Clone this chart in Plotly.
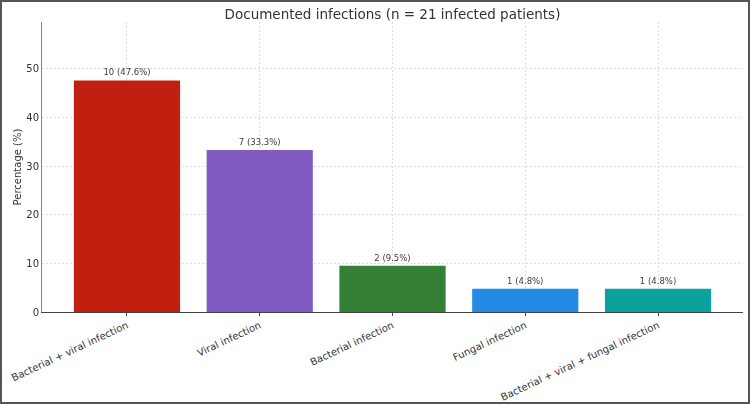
import plotly.graph_objects as go

categories = ["Bacterial + viral infection", "Viral infection", "Bacterial infection",
              "Fungal infection", "Bacterial + viral + fungal infection"]
counts = [10, 7, 2, 1, 1]
percentages = [47.6, 33.3, 9.5, 4.8, 4.8]
colors = ["#BF1607", "#7C54C1", "#2B7B2F", "#1B86E4", "#009D98"]
labels = [f"{c} ({p}%)" for c, p in zip(counts, percentages)]

W, H = 750, 404
ml, mr, mt, mb = 42, 7, 22, 92
pw, ph = W - ml - mr, H - mt - mb

fig = go.Figure()
fig.add_trace(go.Bar(
    x=list(range(len(categories))), y=percentages,
    marker=dict(color=colors, line=dict(width=0)), opacity=0.96,
    width=0.8, text=labels, textposition="outside",
    textfont=dict(size=8.5, color="#333", family="DejaVu Sans"),
    cliponaxis=False, hoverinfo="skip",
))

fig.update_layout(
    width=W, height=H,
    margin=dict(l=ml, r=mr, t=mt, b=mb),
    paper_bgcolor="white", plot_bgcolor="white",
    font=dict(family="DejaVu Sans", color="#333"),
    showlegend=False,
    title=dict(text="Documented infections (n = 21 infected patients)",
               x=(ml + pw / 2) / W, xanchor="center", y=1 - 14 / H, yanchor="middle",
               font=dict(size=13.5, color="#333")),
    xaxis=dict(
        range=[-0.64, len(categories) - 1 + 0.64],
        tickmode="array", tickvals=list(range(len(categories))), ticktext=categories,
        tickangle=-25, tickfont=dict(size=10, color="#333"),
        ticklabeloverflow="allow", automargin=False,
        showgrid=True, gridcolor="#dedede", griddash="2px,2px", gridwidth=1,
        showline=True, linecolor="#444", linewidth=1,
        ticks="outside", ticklen=3, tickcolor="#444", zeroline=False,
    ),
    yaxis=dict(
        range=[0, 59.6], tickvals=[0, 10, 20, 30, 40, 50],
        tickfont=dict(size=10, color="#333"), automargin=False,
        showgrid=True, gridcolor="#dedede", griddash="2px,2px", gridwidth=1,
        showline=True, linecolor="#888", linewidth=1, zeroline=False,
        ticks="", ticklen=0,
        title=dict(text="Percentage (%)", font=dict(size=10, color="#333"), standoff=2),
    ),
)

# figure border
fig.add_shape(type="rect", xref="paper", yref="paper",
              x0=-(ml - 1) / pw, x1=1 + (mr - 1) / pw,
              y0=-(mb - 1) / ph, y1=1 + (mt - 1) / ph,
              line=dict(color="#555", width=2), fillcolor="rgba(0,0,0,0)", layer="above")

fig.write_html("out.html")
